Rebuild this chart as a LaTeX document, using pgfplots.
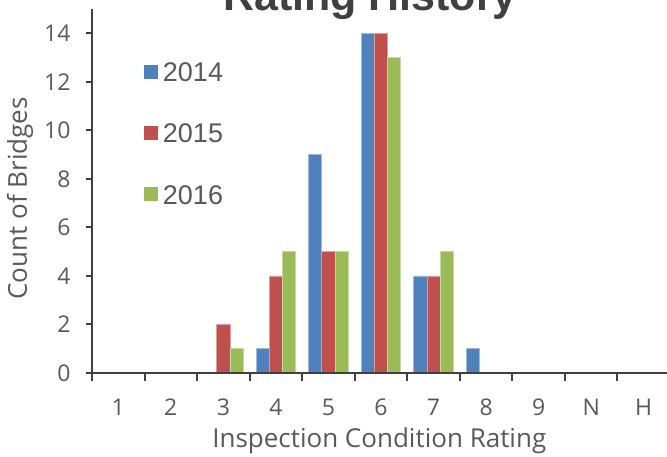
\documentclass[border=0pt]{standalone}
\usepackage{pgfplots}
\pgfplotsset{compat=1.18}
\usepackage{fontspec}
\setmainfont{Liberation Sans}
\newfontfamily\labfont{Open Sans}
\definecolor{c14}{HTML}{4F81BD}
\definecolor{c15}{HTML}{C0504D}
\definecolor{c16}{HTML}{9BBB59}
\definecolor{txt}{HTML}{595959}
\definecolor{axc}{HTML}{404040}
\pgfplotstableread{
x y14 y15 y16
0 0 0 0
1 0 0 0
2 0 2 1
3 1 4 5
4 9 5 5
5 14 14 13
6 4 4 5
7 1 0 0
8 0 0 0
9 0 0 0
10 0 0 0
}\datatable
\begin{document}
\begin{tikzpicture}[x=1pt,y=1pt]
\useasboundingbox (0,0) rectangle (667,457);
\node[anchor=base, font=\fontsize{43}{47}\selectfont\bfseries, text=axc] at (370,446) {Rating History};
\begin{axis}[
  at={(92pt,84pt)}, anchor=south west,
  scale only axis, width=578pt, height=364pt,
  xmin=-0.5, xmax=10.5, ymin=0, ymax=15,
  axis x line*=bottom, axis y line*=left,
  axis line style={draw=axc, line width=2.2pt},
  axis on top,
  ybar=0pt, bar width=0.25,
  ytick={0,2,...,14},
  xtick={0,...,10},
  xticklabels={1,2,3,4,5,6,7,8,9,N,H},
  minor xtick={-0.5,0.5,...,10.5},
  major x tick style={draw=none},
  minor x tick style={draw=axc, line width=2pt},
  minor tick length=8pt,
  major y tick style={draw=axc, line width=2pt},
  major tick length=6pt,
  tick align=outside,
  /pgf/number format/assume math mode=true,
  tick label style={font=\labfont\fontsize{23}{23}\selectfont, text=txt},
  xticklabel style={anchor=base, yshift=-37pt},
  yticklabel style={anchor=east, xshift=-12pt},
  xlabel={Inspection Condition Rating},
  ylabel={Count of Bridges},
  label style={font=\labfont\fontsize{26}{26}\selectfont, text=txt},
  xlabel style={at={(rel axis cs:0.497,-0.187)}, anchor=center},
  ylabel style={at={(rel axis cs:-0.1246,0.48)}, anchor=center},
  legend style={draw=none, fill=none, at={(rel axis cs:0.083,0.859)}, anchor=north west,
    font=\fontsize{27}{27}\selectfont, text=txt, row sep=41pt,
    nodes={inner sep=0pt}},
  legend image code/.code={\path (0pt,0pt) (19pt,0pt); \fill[#1, draw=none] (0pt,-6pt) rectangle (14pt,8pt);},
  legend cell align=left,
  clip=false,
]
\addplot[fill=c14, draw=c14!55!white, line width=0.8pt] table[x=x, y=y14] {\datatable};
\addplot[fill=c15, draw=c15!55!white, line width=0.8pt] table[x=x, y=y15] {\datatable};
\addplot[fill=c16, draw=c16!55!white, line width=0.8pt] table[x=x, y=y16] {\datatable};
\legend{2014,2015,2016}
\end{axis}
\end{tikzpicture}
\end{document}
